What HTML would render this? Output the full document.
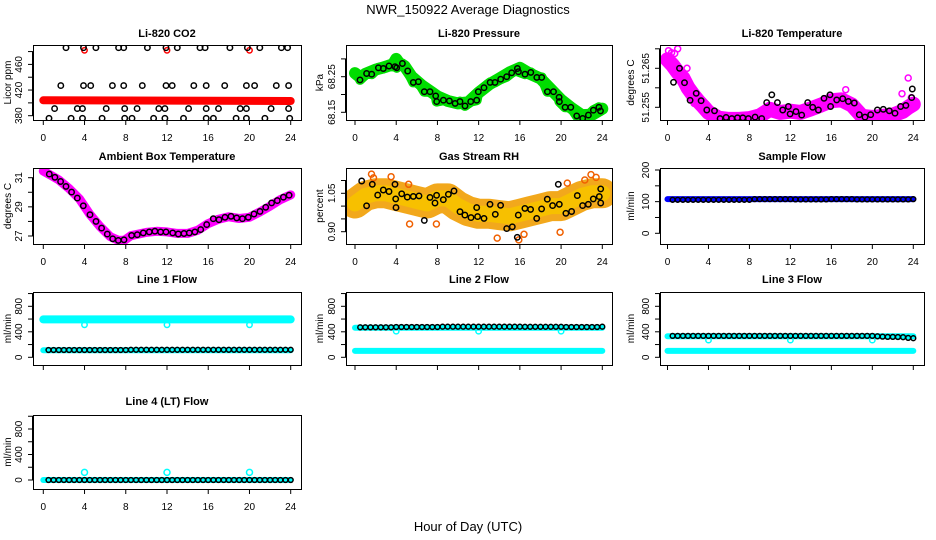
<!DOCTYPE html>
<html><head><meta charset="utf-8"><style>
html,body{margin:0;padding:0;background:#fff;}
svg{display:block;font-family:"Liberation Sans",sans-serif;}
</style></head><body>
<svg id="chart" width="936" height="540" viewBox="0 0 936 540">
<text x="468" y="14" text-anchor="middle" font-size="13">NWR_150922  Average Diagnostics</text>
<text x="468" y="531" text-anchor="middle" font-size="13">Hour of Day (UTC)</text>
</svg>
<script>
// ---------- data ----------
const xTicks = [0,4,8,12,16,20,24];
const halfHours = [0.5,1,1.5,2,2.5,3,3.5,4,4.5,5,5.5,6,6.5,7,7.5,8,8.5,9,9.5,10,10.5,11,11.5,12,12.5,13,13.5,14,14.5,15,15.5,16,16.5,17,17.5,18,18.5,19,19.5,20,20.5,21,21.5,22,22.5,23,23.5,24];

// CO2
const co2BandHours = [0,24];
const co2BandVals = [404,403];
const co2Hours = [2.2,3.9,5.1,7.3,7.8,10.1,11.9,13.0,15.2,15.7,18.1,19.8,21.0,23.1,23.7,
  1.7,3.9,4.6,6.7,7.8,9.6,11.9,12.5,14.6,15.8,17.6,19.7,20.5,22.6,23.8,
  1.1,3.3,3.8,6.1,7.9,9.1,11.2,11.8,14.1,15.8,17.0,19.1,19.7,22.1,23.8,
  0.55,2.7,3.8,5.7,7.9,8.6,10.7,11.8,13.6,15.8,16.5,18.7,19.7,21.5,23.9];
const co2Vals = [486,486,486,486,486,486,486,486,486,486,486,486,486,486,486,
  427,427,427,427,427,427,427,427,427,427,427,427,427,427,427,
  391,391,391,391,391,391,391,391,391,391,391,391,391,391,391,
  376,376,376,376,376,376,376,376,376,376,376,376,376,376,376];
const co2RedOutHours = [4,12,20];
const co2RedOutVals = [482,482,482];

// Pressure
const presHours = [0.49,1.13,1.62,2.27,2.75,3.30,3.88,4.05,4.60,5.11,5.66,6.15,6.73,7.28,7.83,7.93,8.58,9.16,9.71,10.19,10.68,11.23,11.81,11.97,12.52,13.11,13.59,14.14,14.72,15.21,15.76,15.86,16.50,17.06,17.64,18.12,18.67,19.26,19.81,19.84,20.39,20.94,21.52,22.10,22.65,23.14,23.67,23.83];
const presVals = [68.241,68.259,68.257,68.275,68.273,68.280,68.278,68.275,68.287,68.266,68.234,68.236,68.208,68.208,68.196,68.180,68.184,68.182,68.175,68.180,68.168,68.180,68.184,68.208,68.219,68.234,68.234,68.243,68.250,68.261,68.273,68.264,68.257,68.262,68.248,68.248,68.208,68.208,68.192,68.180,68.164,68.164,68.140,68.133,68.142,68.156,68.164,68.154];
const presGreenHours = [0,0.5,1,2,3,3.7,4,4.3,4.8,5.5,6.5,7.5,8,9,10,11,12,13,14,15,16,17,18,19,20,21,22,23,24];
const presGreenVals = [68.260,68.248,68.258,68.270,68.278,68.285,68.300,68.288,68.280,68.250,68.225,68.205,68.195,68.182,68.175,68.178,68.205,68.228,68.245,68.262,68.275,68.258,68.245,68.215,68.185,68.162,68.142,68.143,68.160];

// Li-820 temperature
const ltHours = [0.59,1.17,1.66,2.21,2.80,3.28,3.84,4.59,5.14,5.72,6.28,6.83,7.35,7.90,8.55,9.20,9.69,10.18,10.73,11.25,11.80,11.97,12.55,13.10,13.69,14.18,14.73,15.28,15.87,15.93,16.52,17.11,17.66,18.24,18.73,19.28,19.84,20.49,21.07,21.66,22.21,22.76,23.28,23.84,23.90];
const ltVals = [51.2614,51.2650,51.2613,51.2568,51.2586,51.2567,51.2543,51.2541,51.2521,51.2524,51.2521,51.2523,51.2523,51.2521,51.2525,51.2521,51.2562,51.2582,51.2562,51.2543,51.2552,51.2533,51.2539,51.2530,51.2562,51.2550,51.2543,51.2573,51.2582,51.2552,51.2569,51.2572,51.2565,51.2561,51.2531,51.2525,51.2531,51.2543,51.2545,51.2541,51.2535,51.2552,51.2555,51.2575,51.2597];
const magHours = [0,0.5,1,1.5,2,2.5,3,3.5,4,5,6,7,8,9,10,11,12,13,14,15,16,17,18,19,20,21,22,23,23.5,24];
const magVals = [51.2672,51.2658,51.2640,51.2625,51.2600,51.2582,51.2566,51.2552,51.2537,51.2522,51.2519,51.2519,51.2521,51.2528,51.2545,51.2537,51.2540,51.2537,51.2546,51.2556,51.2567,51.2569,51.2556,51.2527,51.2524,51.2527,51.2530,51.2540,51.2550,51.2558];
const magOutHours = [0.1,0.4,0.7,1.0,1.9,2.3,17.4,22.9,23.5,23.8,3.0,2.6];
const magOutVals = [51.2695,51.2690,51.2688,51.2700,51.2650,51.2605,51.2595,51.2585,51.2625,51.2575,51.2580,51.2560];

// Ambient box temperature
const ambHours = [0.58,1.13,1.68,2.20,2.75,3.30,3.88,4.53,5.11,5.66,6.21,6.73,7.28,7.83,8.57,9.12,9.70,10.28,10.83,11.38,11.90,12.55,13.10,13.65,14.16,14.71,15.27,15.85,16.49,17.04,17.63,18.21,18.76,19.31,19.89,20.44,21.02,21.57,22.15,22.70,23.29,23.84];
const ambVals = [31.25,31.03,30.74,30.40,30.01,29.60,29.07,28.46,28.00,27.54,27.13,26.81,26.70,26.74,27.04,27.09,27.21,27.28,27.33,27.28,27.28,27.21,27.14,27.17,27.21,27.28,27.44,27.78,28.19,28.12,28.28,28.35,28.24,28.19,28.28,28.51,28.69,28.97,29.27,29.43,29.66,29.80];
const ambBandHours = [0,0.6,1.5,2.5,3.5,4.5,5.5,6.5,7.3,7.9,8.5,10,11,12,13,14,15,16,17,18,19,20,21,22,23,24];
const ambBandVals = [31.45,31.22,30.85,30.25,29.55,28.50,27.65,26.95,26.70,26.72,27.02,27.25,27.32,27.28,27.18,27.18,27.40,27.85,28.15,28.32,28.20,28.28,28.65,29.05,29.50,29.82];

// Gas stream RH
const rhHours = [0.65,1.13,1.68,2.20,2.75,3.30,3.88,3.95,3.98,4.53,5.08,5.66,6.21,6.73,7.28,7.76,7.92,8.57,9.06,9.61,10.19,10.67,11.26,11.81,11.90,12.52,13.10,13.62,14.13,14.72,15.27,15.75,15.85,16.49,17.04,17.63,18.11,18.66,19.18,19.73,19.83,20.47,21.02,21.57,22.09,22.64,23.13,23.71,23.84,23.84];
const rhVals = [1.098,1.001,1.085,1.043,1.063,1.057,1.085,1.028,0.994,1.048,1.035,1.038,1.040,0.944,1.034,1.012,1.042,1.025,1.046,1.059,0.978,0.965,0.955,0.994,0.959,0.952,1.007,0.968,1.003,0.912,0.919,0.878,0.965,0.991,0.987,0.952,0.989,1.027,1.002,1.085,1.007,0.972,0.979,1.041,1.002,1.007,1.028,1.037,1.067,1.012];
const rhBandHours = [0,1,2,3,4,5,6,7,8,9,10,11,12,13,14,15,16,17,18,19,20,21,22,23,24];
const rhBandVals = [1.01,1.04,1.05,1.05,1.04,1.03,1.02,1.01,1.03,1.03,1.00,0.98,0.97,0.97,0.965,0.96,0.97,0.98,0.99,1.00,1.00,1.02,1.04,1.05,1.05];
const rhOutHours = [1.6,1.8,3.5,5.2,5.3,13.8,15.9,16.4,19.9,20.6,22.3,22.9,23.4,7.9];
const rhOutVals = [1.125,1.110,1.115,1.085,0.93,0.875,0.868,0.89,0.898,1.090,1.102,1.123,1.112,0.93];

// Sample flow
const sampleBandHours = [0,24];
const sampleBandVals = [108,108];
const sampleBlack = [106,106,106,106,106,106,106,106,106,106,106,106,106,106,106,106,108,108,108,108,108,108,108,108,107,107,107,107,107,107,107,108,108,108,108,108,107,107,107,107,107,107,107,107,107,107,107,108];

// Line 1 flow
const l1CyanHours = [0,24];
const l1CyanVals = [595,595];
const l1LowCyanVals = [110,110];
const l1DipHours = [4,12,20];
const l1DipVals = [510,510,510];
const l1Black = [115,115,115,115,115,115,115,115,115,115,115,115,115,115,115,115,118,118,118,118,118,118,118,118,118,118,118,118,118,118,118,118,118,118,118,118,118,118,118,118,118,118,118,118,118,118,118,118];

// Line 2 flow
const l2CyanVals = [465,465];
const l2LowCyanVals = [100,100];
const l2DipVals = [410,410,410];
const l2Black = [470,470,470,470,470,470,470,475,475,475,475,475,475,475,475,475,480,480,480,480,480,480,480,480,480,480,480,480,480,480,480,480,478,478,478,478,478,478,478,478,475,475,475,475,475,475,475,480];

// Line 3 flow
const l3CyanVals = [330,330];
const l3LowCyanVals = [100,100];
const l3DipVals = [270,270,270];
const l3Black = [335,335,335,335,335,335,335,335,335,335,335,335,335,335,335,335,335,335,335,335,335,335,335,335,335,335,335,335,335,335,335,335,335,335,335,335,335,335,335,335,330,325,320,320,318,315,305,300];

// Line 4 flow
const l4CyanVals = [0,0];
const l4SpikeHours = [4,12,20];
const l4SpikeVals = [120,120,120];
const l4Black = [0,0,0,0,0,0,0,0,0,0,0,0,0,0,0,0,0,0,0,0,0,0,0,0,0,0,0,0,0,0,0,0,0,0,0,0,0,0,0,0,0,0,0,0,0,0,0,0];

// ---------- drawing ----------
const NS = 'http://www.w3.org/2000/svg';
const svg = document.getElementById('chart');
function mk(tag, attrs, parent) {
  const e = document.createElementNS(NS, tag);
  for (const k in attrs) e.setAttribute(k, attrs[k]);
  (parent || svg).appendChild(e);
  return e;
}
const cols = [
  {bx0:33, bx1:301, h0:43.3, h24:290.7, ylab:11, tlab:22},
  {bx0:346, bx1:612, h0:355, h24:602.3, ylab:323, tlab:335},
  {bx0:660, bx1:924, h0:667.5, h24:913.3, ylab:634, tlab:649}
];
const rows = [
  {by0:45, by1:120, title:37, xl:141},
  {by0:168, by1:244, title:160, xl:265},
  {by0:292, by1:365, title:283, xl:null},
  {by0:415, by1:489, title:405, xl:510}
];
let clipId = 0;
function panel(name, title, ci, ri, yCal, yTicks, yLabels, yTitle) {
  const c = cols[ci], r = rows[ri];
  const g = mk('g', {});
  
  
  const sx = h => c.h0 + (h / 24) * (c.h24 - c.h0);
  const sy = v => yCal[1] + (v - yCal[0]) / (yCal[2] - yCal[0]) * (yCal[3] - yCal[1]);
  const t = mk('text', {x:(c.bx0 + c.bx1) / 2, y:r.title, 'text-anchor':'middle', 'font-size':'11', 'font-weight':'bold'}, g);
  t.textContent = title;
  
  
  // y axis
  const ya = mk('g', {}, g);
  
  
  const yt0 = sy(yTicks[0]), yt1 = sy(yTicks[yTicks.length - 1]);
  mk('line', {x1:c.bx0 - 0.5, x2:c.bx0 - 0.5, y1:yt0, y2:yt1, stroke:'#000'}, ya);
  yTicks.forEach(v => mk('line', {x1:c.bx0 - 5, x2:c.bx0, y1:sy(v), y2:sy(v), stroke:'#000'}, ya));
  yLabels.forEach(v => {
    const y = sy(v);
    const lt = mk('text', {x:c.tlab, y:y, 'text-anchor':'middle', 'font-size':'10', transform:'rotate(-90 ' + c.tlab + ' ' + y + ')'}, ya);
    lt.textContent = String(v);
    
    
  });
  const ym = (r.by0 + r.by1) / 2;
  const yl = mk('text', {x:c.ylab, y:ym, 'text-anchor':'middle', 'font-size':'10', transform:'rotate(-90 ' + c.ylab + ' ' + ym + ')'}, g);
  yl.textContent = yTitle;
  
  
  // x axis
  const xa = mk('g', {}, g);
  
  
  mk('line', {x1:sx(0), x2:sx(24), y1:r.by1 + 0.5, y2:r.by1 + 0.5, stroke:'#000'}, xa);
  xTicks.forEach(h => {
    mk('line', {x1:sx(h), x2:sx(h), y1:r.by1, y2:r.by1 + 5, stroke:'#000'}, xa);
    if (r.xl !== null) {
      const xt = mk('text', {x:sx(h), y:r.xl, 'text-anchor':'middle', 'font-size':'10'}, xa);
      xt.textContent = String(h);
      
      
    }
  });
  const box = mk('rect', {x:c.bx0 + 0.5, y:r.by0 + 0.5, width:c.bx1 - c.bx0, height:r.by1 - r.by0, fill:'none', stroke:'#000'}, g);
  
  
  const cp = mk('clipPath', {id:'cp' + (++clipId)}, g);
  mk('rect', {x:c.bx0 + 1, y:r.by0 + 1, width:c.bx1 - c.bx0 - 1, height:r.by1 - r.by0 - 1}, cp);
  const dg = mk('g', {'clip-path':'url(#cp' + clipId + ')'}, g);
  
  
  return {sx, sy, g:dg};
}
function band(p, hours, vals, color, w, nm) {
  const pts = hours.map((h, i) => p.sx(h).toFixed(1) + ',' + p.sy(vals[i]).toFixed(1)).join(' ');
  const e = mk('polyline', {points:pts, fill:'none', stroke:color, 'stroke-width':w, 'stroke-linecap':'round', 'stroke-linejoin':'round'}, p.g);
  
  
}
function pts(p, hours, vals, color, nm, rad) {
  hours.forEach((h, i) => {
    const e = mk('circle', {cx:p.sx(h).toFixed(1), cy:p.sy(vals[i]).toFixed(1), r:rad || 2.7, fill:'none', stroke:color, 'stroke-width':1.5}, p.g);
    
    
  });
}
const flowCal3 = [0, 357.3, 800, 306.3];
const flowCal4 = [0, 480, 800, 429];
const flowTicks = [0,200,400,600,800,1000];
const flowLabels = [0,400,800];

// CO2
let p = panel('co2', 'Li-820 CO2', 0, 0, [380,115.7,460,64.4], [380,400,420,440,460,480], [380,420,460], 'Licor ppm');
band(p, co2BandHours, co2BandVals, '#ff0000', 8, 'co2-red-band');
pts(p, co2RedOutHours, co2RedOutVals, '#ff0000', 'co2-red-point');
pts(p, co2Hours, co2Vals, '#000', 'co2-black-point');

// Pressure
p = panel('pressure', 'Li-820 Pressure', 1, 0, [68.15,112.3,68.25,76.7], [68.15,68.20,68.25,68.30], ['68.15','68.25'], 'kPa');
band(p, presGreenHours, presGreenVals, '#00dd00', 12, 'pressure-green-band');
band(p, presHours, presVals, '#00dd00', 10, 'pressure-green-band-2');
pts(p, presHours, presVals, '#000', 'pressure-black-point');

// Li temp
p = panel('li-temp', 'Li-820 Temperature', 2, 0, [51.255,107.3,51.265,68.3], [51.255,51.260,51.265,51.270], ['51.255','51.265'], 'degrees C');
band(p, magHours, magVals, '#ff00ff', 15, 'li-temp-magenta-band');
pts(p, magOutHours, magOutVals, '#ff00ff', 'li-temp-magenta-point', 3);
pts(p, ltHours, ltVals, '#000', 'li-temp-black-point');

// Ambient
p = panel('ambient-temp', 'Ambient Box Temperature', 0, 1, [27,236,31,177.7], [27,28,29,30,31], [27,29,31], 'degrees C');
band(p, ambBandHours, ambBandVals, '#ff00ff', 9, 'ambient-magenta-band');
pts(p, ambHours, ambVals, '#000', 'ambient-black-point');

// RH
p = panel('gas-rh', 'Gas Stream RH', 1, 1, [0.90,231.7,1.05,193.3], [0.90,0.95,1.00,1.05,1.10], ['0.90','1.05'], 'percent');
band(p, rhBandHours, rhBandVals, '#f2a81c', 30, 'rh-orange-band');
band(p, rhBandHours, rhBandVals, '#f7c000', 16, 'rh-yellow-band');
pts(p, rhOutHours, rhOutVals, '#f06000', 'rh-orange-point', 3);
pts(p, rhHours, rhVals, '#000', 'rh-black-point');

// Sample flow
p = panel('sample-flow', 'Sample Flow', 2, 1, [0,233.3,200,170], [0,50,100,150,200], [0,100,200], 'ml/min');
band(p, sampleBandHours, sampleBandVals, '#0000ff', 6, 'sample-blue-band');
pts(p, halfHours, sampleBlack, '#000', 'sample-black-point', 2.4);

// Line 1
p = panel('line1-flow', 'Line 1 Flow', 0, 2, flowCal3, flowTicks, flowLabels, 'ml/min');
band(p, l1CyanHours, l1CyanVals, '#00ffff', 8, 'line1-cyan-band');
band(p, l1CyanHours, l1LowCyanVals, '#00ffff', 6, 'line1-cyan-low-band');
pts(p, l1DipHours, l1DipVals, '#00ffff', 'line1-cyan-point');
pts(p, halfHours, l1Black, '#000', 'line1-black-point', 2.4);

// Line 2
p = panel('line2-flow', 'Line 2 Flow', 1, 2, flowCal3, flowTicks, flowLabels, 'ml/min');
band(p, l1CyanHours, l2CyanVals, '#00ffff', 6, 'line2-cyan-band');
band(p, l1CyanHours, l2LowCyanVals, '#00ffff', 6, 'line2-cyan-low-band');
pts(p, l1DipHours, l2DipVals, '#00ffff', 'line2-cyan-point');
pts(p, halfHours, l2Black, '#000', 'line2-black-point', 2.4);

// Line 3
p = panel('line3-flow', 'Line 3 Flow', 2, 2, flowCal3, flowTicks, flowLabels, 'ml/min');
band(p, l1CyanHours, l3CyanVals, '#00ffff', 6, 'line3-cyan-band');
band(p, l1CyanHours, l3LowCyanVals, '#00ffff', 6, 'line3-cyan-low-band');
pts(p, l1DipHours, l3DipVals, '#00ffff', 'line3-cyan-point');
pts(p, halfHours, l3Black, '#000', 'line3-black-point', 2.4);

// Line 4
p = panel('line4-flow', 'Line 4 (LT) Flow', 0, 3, flowCal4, flowTicks, flowLabels, 'ml/min');
band(p, l1CyanHours, l4CyanVals, '#00ffff', 6, 'line4-cyan-band');
pts(p, l4SpikeHours, l4SpikeVals, '#00ffff', 'line4-cyan-point', 3);
pts(p, halfHours, l4Black, '#000', 'line4-black-point', 2.4);
</script>
</body></html>
